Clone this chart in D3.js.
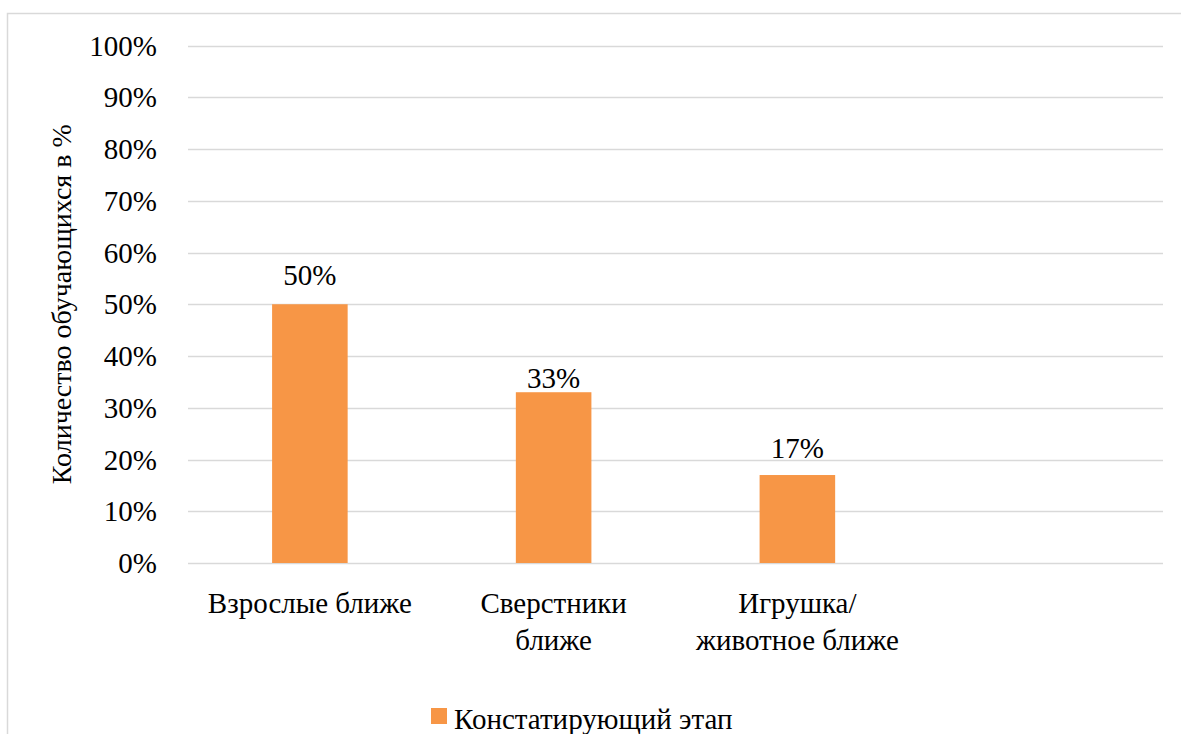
<!DOCTYPE html>
<html>
<head>
<meta charset="utf-8">
<script src="https://cdn.jsdelivr.net/npm/d3@7"></script>
</head>
<body style="margin:0">
<script>
// Data
var categories = ['Взрослые ближе', 'Сверстники ближе', 'Игрушка/ животное ближе', ''];
var catLines = [['Взрослые ближе'], ['Сверстники', 'ближе'], ['Игрушка/', 'животное ближе'], []];
var values = [50, 33, 17, null];
var labelNudge = [19, 4, 17, 0];
var yTicks = [0, 10, 20, 30, 40, 50, 60, 70, 80, 90, 100];
var seriesName = 'Констатирующий этап';
var yTitle = 'Количество обучающихся в %';

var w = 1181;
var h = 734;
var barColor = '#F79646';
var fontSize = 29;
var fam = 'Times New Roman';

var svg = d3.select('body').append('svg')
  .attr('width', w)
  .attr('height', h);

// outer chart frame
svg.append('rect')
  .attr('x', 7.5).attr('y', 13.5)
  .attr('width', 1200).attr('height', 800)
  .attr('fill', 'none')
  .attr('stroke', '#D9D9D9')
  .attr('stroke-width', 1.5);

var x = d3.scaleBand()
  .domain(categories)
  .range([188, 1163])
  .paddingInner(0.69)
  .paddingOuter(0.345);

var y = d3.scaleLinear()
  .domain([0, 100])
  .range([563, 45.5]);

// gridlines
svg.append('g')
  .selectAll('line')
  .data(yTicks)
  .enter().append('line')
  .attr('x1', 188).attr('x2', 1163)
  .attr('y1', function(d) { return Math.round(y(d)) + 0.5; })
  .attr('y2', function(d) { return Math.round(y(d)) + 0.5; })
  .attr('stroke', '#D9D9D9')
  .attr('stroke-width', 1.5);

// y tick labels
svg.selectAll('text.tick')
  .data(yTicks)
  .enter().append('text')
  .attr('class', 'tick')
  .attr('font-family', function() { return fam; })
  .attr('font-size', fontSize)
  .attr('x', 157)
  .attr('y', function(d) { return y(d) + 10; })
  .attr('text-anchor', 'end')
  .text(function(d) { return d + '%'; });

// y title
svg.append('text')
  .attr('font-family', function() { return fam; })
  .attr('font-size', 28)
  .attr('transform', 'translate(71,' + ((y(0) + y(100)) / 2) + ') rotate(-90)')
  .attr('text-anchor', 'middle')
  .text(yTitle);

var rows = categories.map(function(c, i) {
  return { cat: c, v: values[i], lines: catLines[i], nudge: labelNudge[i] };
});
var filled = rows.filter(function(d) { return d.v != null; });

// bars
svg.selectAll('rect.bar')
  .data(filled)
  .enter().append('rect')
  .attr('class', 'bar')
  .attr('x', function(d) { return x(d.cat); })
  .attr('y', function(d) { return y(d.v); })
  .attr('width', x.bandwidth())
  .attr('height', function(d) { return y(0) - y(d.v); })
  .attr('fill', barColor);

// data labels
svg.selectAll('text.val')
  .data(filled)
  .enter().append('text')
  .attr('class', 'val')
  .attr('font-family', function() { return fam; })
  .attr('font-size', fontSize)
  .attr('x', function(d) { return x(d.cat) + x.bandwidth() / 2; })
  .attr('y', function(d) { return y(d.v) - d.nudge; })
  .attr('text-anchor', 'middle')
  .text(function(d) { return d.v + '%'; });

// category labels, one text per line
var catText = [];
rows.forEach(function(d) {
  d.lines.forEach(function(l, i) { catText.push({ cat: d.cat, l: l, i: i }); });
});
svg.selectAll('text.cat')
  .data(catText)
  .enter().append('text')
  .attr('class', 'cat')
  .attr('font-family', function() { return fam; })
  .attr('font-size', fontSize)
  .attr('x', function(d) { return x(d.cat) + x.bandwidth() / 2; })
  .attr('y', function(d) { return 613 + d.i * 37; })
  .attr('text-anchor', 'middle')
  .text(function(d) { return d.l; });

// legend
svg.append('rect')
  .attr('x', 431).attr('y', 708)
  .attr('width', 16).attr('height', 16)
  .attr('fill', barColor);
svg.append('text')
  .attr('font-family', function() { return fam; })
  .attr('font-size', fontSize)
  .attr('x', 454).attr('y', 729)
  .text(seriesName);

// make sure the family sticks even if a stylesheet overrides presentation attributes
svg.selectAll('text').each(function() {
  this.style.setProperty('font-family', '"' + fam + '", "Liberation Serif", serif', 'important');
});
</script>
</body>
</html>
